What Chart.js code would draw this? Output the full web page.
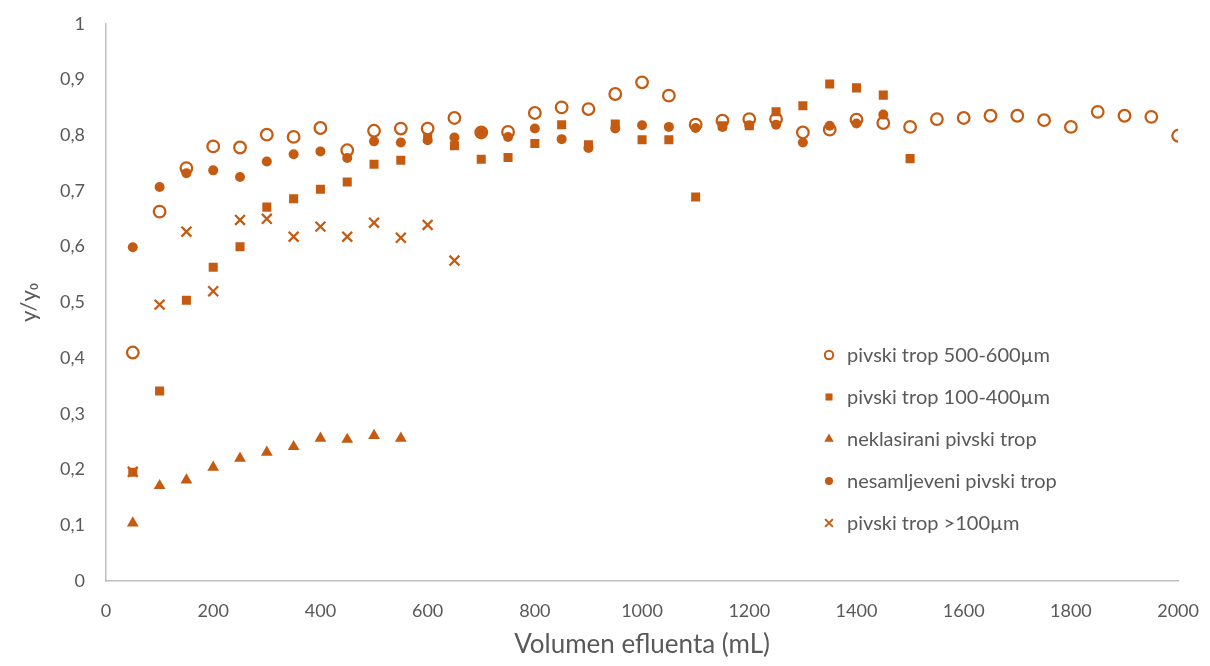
<!DOCTYPE html>
<html>
<head>
<meta charset="utf-8">
<script src="https://cdn.jsdelivr.net/npm/chart.js@4/dist/chart.umd.min.js"></script>
<style>
	html, body { margin: 0; padding: 0; background: #fff; }
	#wrap { width: 1210px; height: 666px; }
</style>
</head>
<body>
<div id="wrap"><canvas id="chart" width="1210" height="666"></canvas></div>
<script>
	// Volumen efluenta (mL), every 50 mL.
	const volumes = [50, 100, 150, 200, 250, 300, 350, 400, 450, 500, 550, 600, 650, 700, 750, 800, 850, 900, 950, 1000,
		1050, 1100, 1150, 1200, 1250, 1300, 1350, 1400, 1450, 1500, 1550, 1600, 1650, 1700, 1750, 1800, 1850, 1900, 1950, 2000];

	// y/y0 per series.
	const trop500600 = [0.410, 0.663, 0.741, 0.780, 0.778, 0.801, 0.797, 0.813, 0.773, 0.808, 0.812, 0.812, 0.831, 0.805, 0.806, 0.840, 0.850, 0.847, 0.874, 0.895,
		0.871, 0.819, 0.826, 0.829, 0.829, 0.805, 0.810, 0.828, 0.822, 0.815, 0.829, 0.831, 0.835, 0.835, 0.827, 0.815, 0.842, 0.835, 0.833, 0.799];
	const trop100400 = [0.195, 0.341, 0.504, 0.563, 0.600, 0.671, 0.686, 0.703, 0.716, 0.748, 0.755, 0.794, 0.781, 0.757, 0.760, 0.785, 0.819, 0.783, 0.820, 0.792,
		0.792, 0.689, 0.817, 0.817, 0.842, 0.853, 0.892, 0.885, 0.872, 0.758];
	const neklasirani = [0.104, 0.171, 0.181, 0.204, 0.220, 0.231, 0.241, 0.256, 0.254, 0.261, 0.256];
	const nesamljeveni = [0.599, 0.707, 0.732, 0.737, 0.725, 0.753, 0.766, 0.771, 0.759, 0.789, 0.787, 0.791, 0.796, 0.805, 0.797, 0.812, 0.793, 0.777, 0.812, 0.818,
		0.815, 0.813, 0.815, 0.818, 0.819, 0.787, 0.817, 0.821, 0.837];
	const trop100 = [0.196, 0.496, 0.627, 0.520, 0.648, 0.650, 0.618, 0.636, 0.618, 0.643, 0.616, 0.639, 0.575];

	const seriesNames = ['pivski trop 500-600µm', 'pivski trop 100-400µm', 'neklasirani pivski trop', 'nesamljeveni pivski trop', 'pivski trop >100µm'];
	const yTicks = [0, 0.1, 0.2, 0.3, 0.4, 0.5, 0.6, 0.7, 0.8, 0.9, 1];

	const orange = '#C55A11';
	const textGray = '#595959';
	const axisGray = '#BFBFBF';
	const fontFamily = "Lato, 'Open Sans', sans-serif";

	function toPoints(values) {
		return values.map(function(v, i) { return { x: volumes[i], y: v }; });
	}

	const styles = [
		{ pointStyle: 'circle', pointRadius: 5.8, pointBackgroundColor: '#fff', pointBorderWidth: 2.25 },
		{ pointStyle: 'rect', pointRadius: 6.4, pointBackgroundColor: orange, pointBorderWidth: 0 },
		{ pointStyle: 'triangle', pointRadius: 6.8, pointBackgroundColor: orange, pointBorderWidth: 0 },
		{ pointStyle: 'circle', pointRadius: 5, pointBackgroundColor: orange, pointBorderWidth: 0 },
		{ pointStyle: 'crossRot', pointRadius: 7, pointBackgroundColor: orange, pointBorderWidth: 2.25 }
	];
	const allSeries = [trop500600, trop100400, neklasirani, nesamljeveni, trop100];

	const datasets = allSeries.map(function(values, i) {
		return Object.assign({
			label: seriesNames[i],
			data: toPoints(values),
			pointBorderColor: orange,
			showLine: false,
			order: 5 - i
		}, styles[i]);
	});

	// Legend drawn inside the plot area, on the right.
	const insideLegend = {
		id: 'insideLegend',
		afterDraw: function(chart) {
			const ctx = chart.ctx;
			const legendStyles = [
				{ pointStyle: 'circle', radius: 4.2, fill: '#fff', borderWidth: 2 },
				{ pointStyle: 'rect', radius: 5, fill: orange, borderWidth: 0 },
				{ pointStyle: 'triangle', radius: 5.5, fill: orange, borderWidth: 0 },
				{ pointStyle: 'circle', radius: 4, fill: orange, borderWidth: 0 },
				{ pointStyle: 'crossRot', radius: 5.5, fill: orange, borderWidth: 2 }
			];
			ctx.save();
			ctx.font = '20px ' + fontFamily;
			ctx.textBaseline = 'middle';
			ctx.textAlign = 'left';
			seriesNames.forEach(function(name, i) {
				const y = 355 + i * 42;
				const s = legendStyles[i];
				ctx.fillStyle = s.fill;
				ctx.strokeStyle = orange;
				ctx.lineWidth = s.borderWidth;
				Chart.helpers.drawPoint(ctx, { pointStyle: s.pointStyle, radius: s.radius, rotation: 0, borderWidth: s.borderWidth }, 829, y);
				ctx.fillStyle = textGray;
				ctx.fillText(name, 847, y + 1);
			});
			ctx.restore();
		}
	};

	new Chart(document.getElementById('chart'), {
		type: 'scatter',
		data: { datasets: datasets },
		plugins: [insideLegend],
		options: {
			responsive: false,
			animation: false,
			layout: { padding: { top: -6, right: 30, left: 0, bottom: 0 } },
			plugins: {
				legend: { display: false },
				tooltip: { enabled: false }
			},
			scales: {
				x: {
					type: 'linear',
					min: 0,
					max: 2000,
					afterFit: function(scale) { scale.height = 85; },
					grid: { display: false },
					border: { display: true, color: axisGray, width: 1.5 },
					ticks: {
						stepSize: 200,
						padding: 11,
						color: textGray,
						font: { size: 18, family: fontFamily },
						callback: function(value) { return String(value); }
					},
					title: {
						display: true,
						text: 'Volumen efluenta (mL)',
						color: textGray,
						padding: { top: 4, bottom: 6 },
						font: { size: 26, family: fontFamily }
					}
				},
				y: {
					type: 'linear',
					min: 0,
					max: 1,
					afterFit: function(scale) { scale.width = 106; },
					afterBuildTicks: function(scale) {
						scale.ticks = yTicks.map(function(v) { return { value: v }; });
					},
					grid: { display: false },
					border: { display: true, color: axisGray, width: 1.5 },
					ticks: {
						padding: 13,
						color: textGray,
						font: { size: 18, family: fontFamily },
						callback: function(value) {
							return String(Math.round(value * 10) / 10).replace('.', ',');
						}
					},
					title: {
						display: true,
						text: 'y/y₀',
						color: textGray,
						padding: { top: 16, bottom: 0 },
						font: { size: 22, family: fontFamily }
					}
				}
			}
		}
	});
</script>
</body>
</html>
